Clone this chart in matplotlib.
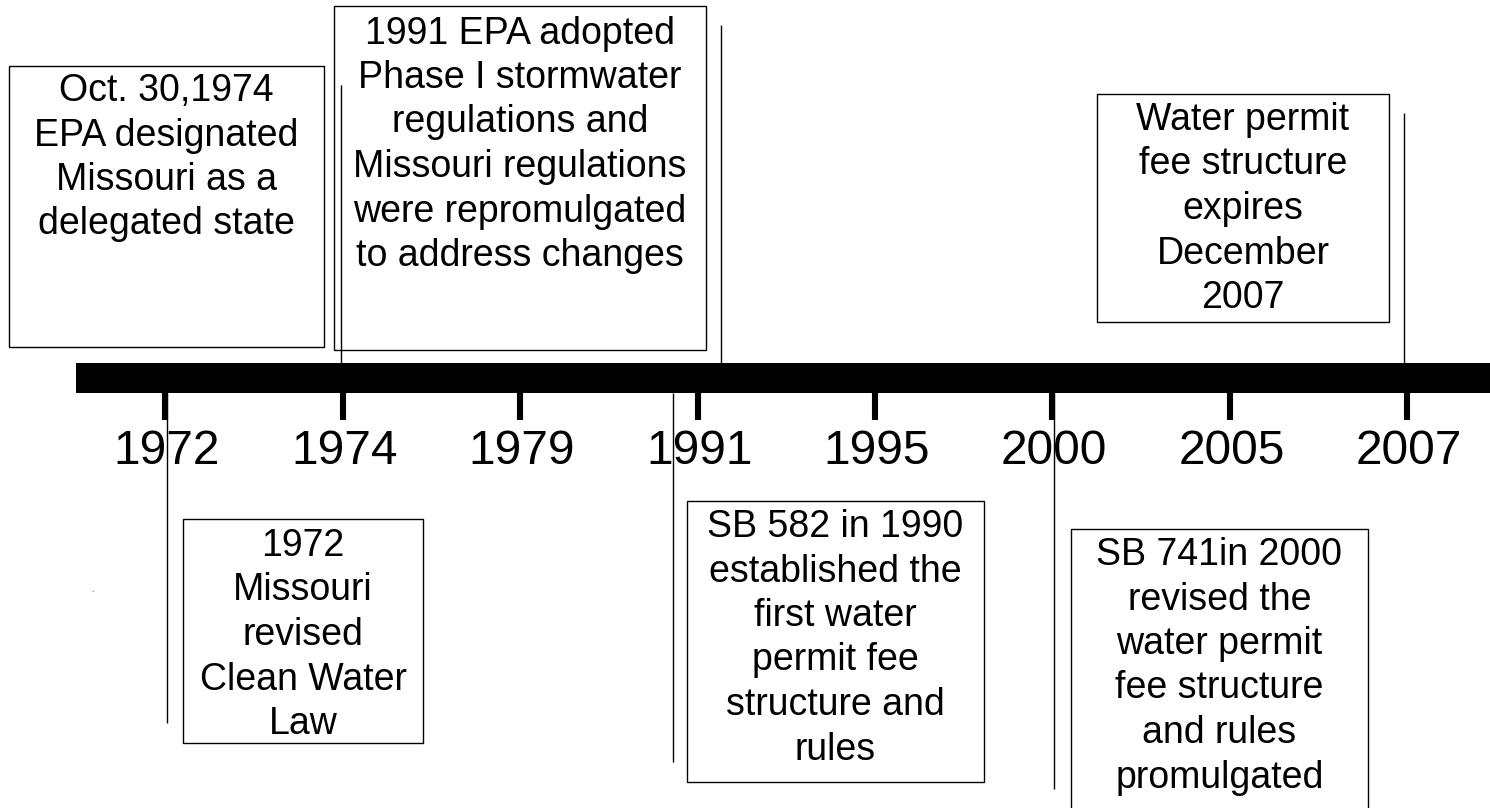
import matplotlib
matplotlib.use("Agg")
import matplotlib.pyplot as plt
from matplotlib.patches import Rectangle

plt.rcParams['font.family'] = ['Liberation Sans', 'DejaVu Sans']

# tick labels along the timeline (evenly spaced, not to scale)
years = ["1972", "1974", "1979", "1991", "1995", "2000", "2005", "2007"]

# events: text lines, where each one points on the timeline (tick index units), side
event_text = [
    ["Oct. 30,1974", "EPA designated", "Missouri as a", "delegated state"],
    ["1991 EPA adopted", "Phase I stormwater", "regulations and",
     "Missouri regulations", "were repromulgated", "to address changes"],
    ["Water permit", "fee structure", "expires", "December", "2007"],
    ["1972", "Missouri", "revised", "Clean Water", "Law"],
    ["SB 582 in 1990", "established the", "first water", "permit fee",
     "structure and", "rules"],
    ["SB 741in 2000", "revised the", "water permit", "fee structure",
     "and rules", "promulgated"],
]
event_pos = [0.99, 3.13, 6.98, 0.01, 2.86, 5.01]
event_side = ["top", "top", "top", "bottom", "bottom", "bottom"]

# layout (x in tick-index units, y in pixels from top)
box_x = [(-0.879, 0.896), (0.952, 3.048), (5.251, 6.896),
         (0.101, 1.454), (2.941, 4.614), (5.104, 6.777)]
box_y = [(66, 347), (6, 350), (94, 322), (519, 743), (501, 782), (529, 830)]
first_baseline = [101, 43.5, 130, 556, 537, 565]
connector_end = [85, 25, 113, 723, 762, 789]
line_step = 44.5

bar_top, bar_bot = 363, 393
tick_bot = 420

fig = plt.figure(figsize=(14.9, 8.08), dpi=100)
ax = fig.add_axes([0, 0, 1, 1])
ax.set_xlim(-0.9296, 7.4648)
ax.set_ylim(808, 0)
ax.axis('off')

# the thick timeline bar
ax.barh((bar_top + bar_bot) / 2, 8, left=-0.5, height=bar_bot - bar_top,
        color='black')

# ticks + year labels
idx = list(range(len(years)))
ax.vlines(idx, bar_bot, tick_bot, color='black', linewidth=4.4, capstyle='butt')
for i, y in enumerate(years):
    ax.text(i + 0.01, 464, y, ha='center', va='baseline', fontsize=34.5)

# event boxes, text and connectors
for k, lines in enumerate(event_text):
    x0, x1 = box_x[k]
    y0, y1 = box_y[k]
    ax.add_patch(Rectangle((x0, y0), x1 - x0, y1 - y0, fill=False,
                           edgecolor='black', linewidth=1.0))
    cx = (x0 + x1) / 2
    for j, ln in enumerate(lines):
        ax.text(cx, first_baseline[k] + j * line_step, ln, ha='center',
                va='baseline', fontsize=27)
    if event_side[k] == "top":
        ax.vlines(event_pos[k], connector_end[k], bar_top, color='black',
                  linewidth=1.0)
    else:
        ax.vlines(event_pos[k], bar_bot, connector_end[k], color='black',
                  linewidth=1.0)

# stray dot in the source picture
ax.text(-0.41, 592, ".", fontsize=6, ha='center')

fig.savefig("out.png", dpi=100)
